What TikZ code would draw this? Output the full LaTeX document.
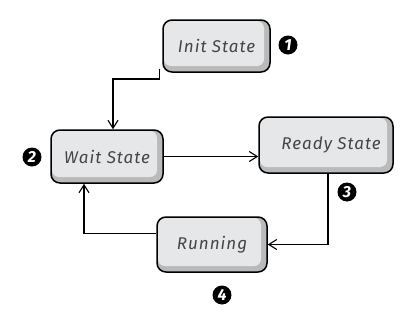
\documentclass[tikz,border=0pt]{standalone}
\usepackage{fontspec}
\setmainfont{Fira Sans}
\newfontfamily\handfont[LetterSpace=6]{Fira Sans}
\usetikzlibrary{arrows.meta}
\definecolor{boxlight}{HTML}{E6E7E8}
\definecolor{boxshade}{HTML}{B9BABC}
\definecolor{txt}{HTML}{444444}
\tikzset{
  statebox/.style={draw=black, line width=1.5pt, fill=boxshade, rounded corners=9pt,
    text=txt, font=\handfont\fontsize{17}{20}\selectfont\itshape,
    minimum width=#1, inner sep=0pt,
    path picture={\fill[boxlight, rounded corners=7pt]
      ([shift={(1pt,-1pt)}]path picture bounding box.north west) rectangle
      ([shift={(-6pt,6pt)}]path picture bounding box.south east);}},
  badge/.style={circle, fill=black, text=white, inner sep=0pt, minimum size=19pt,
    font=\fontsize{16}{16}\selectfont\bfseries\itshape},
  conn/.style={draw=black, line width=1.1pt},
  arr/.style={conn, -{Straight Barb[length=8pt,width=10pt,line width=1.1pt]}}
}
\begin{document}
\begin{tikzpicture}[x=1pt,y=-1pt]
\useasboundingbox (0,0) rectangle (416,322);
\node[statebox=107pt, minimum height=52pt] (init) at (216.5,46) {Init State};
\node[statebox=112pt, minimum height=53pt] (wait) at (107,156.5) {Wait State};
\node[statebox=134pt, minimum height=56pt] (ready) at (326,145) {\hspace{10pt}Ready State};
\node[statebox=110pt, minimum height=55pt] (run) at (212,244.5) {Running};
\node[badge] (b1) at (288,45) {1};
\node[badge] (b2) at (32,157) {2};
\node[badge] (b3) at (347,192) {3};
\node[badge] (b4) at (222,295) {4};
\coordinate (c1) at (113,79);
\draw[arr] ([xshift=-3pt,yshift=4pt]init.south west) |- (c1) -- (c1 |- wait.north);
\draw[arr] (wait.east) -- (wait.east -| ready.west);
\draw[arr] ([xshift=2pt]ready.south) |- (run.east);
\draw[arr] ([yshift=11pt]run.west) -| ([xshift=-23pt]wait.south);
\end{tikzpicture}
\end{document}
